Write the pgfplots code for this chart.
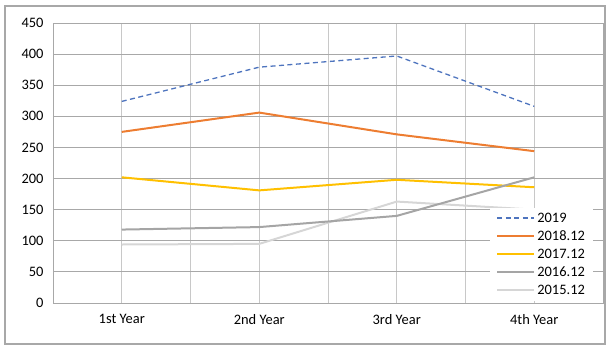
\documentclass[border=0pt]{standalone}
\usepackage{pgfplots}
\pgfplotsset{compat=1.18}
\usepackage{fontspec}
\setmainfont{Carlito}
\definecolor{c2019}{HTML}{4E74BE}
\definecolor{c2018}{HTML}{ED7D31}
\definecolor{c2017}{HTML}{FFC000}
\definecolor{c2016}{HTML}{A5A5A5}
\definecolor{c2015}{HTML}{D6D6D6}
\definecolor{hgrid}{HTML}{A8A8A8}
\definecolor{vgrid}{HTML}{C8C8C8}
\begin{document}
\begin{tikzpicture}
\begin{axis}[
  scale only axis, width=550bp, height=280bp,
  xmin=0.5, xmax=4.5, ymin=0, ymax=450,
  xtick={1,2,3,4},
  xticklabels={1st Year,2nd Year,3rd Year,4th Year},
  minor xtick={0.5,1.5,2.5,3.5,4.5},
  ytick={0,50,...,450},
  xmajorgrids, xminorgrids, ymajorgrids,
  x grid style={color=vgrid, line width=0.9bp},
  minor x grid style={color=vgrid, line width=0.9bp},
  major x grid style={color=vgrid, line width=0.9bp},
  y grid style={color=hgrid, line width=0.9bp},
  major tick length=0pt, minor tick length=0pt,
  axis line style={draw=hgrid, line width=0.9bp},
  tick label style={font=\fontsize{14.5}{16}\selectfont, text=black},
  /pgf/number format/assume math mode=true,
  yticklabel style={xshift=-6bp},
  xticklabel style={yshift=-8bp},
  clip=false,
  legend cell align=left,
  legend style={at={(0.982,0.007)}, anchor=south east, draw=none, fill=white,
    font=\fontsize{14.5}{16}\selectfont, inner xsep=6bp, inner ysep=3bp,
    row sep=3bp},
  legend image code/.code={\draw[#1] (0bp,0bp) -- (37bp,0bp);},
]
\addplot[c2019, line width=1.3bp, dash pattern=on 5bp off 3.5bp] coordinates {(1,324) (2,379) (3,397) (4,316)};
\addlegendentry{2019}
\addplot[c2018, line width=2bp] coordinates {(1,275) (2,306) (3,271) (4,244)};
\addlegendentry{2018.12}
\addplot[c2017, line width=2bp] coordinates {(1,202) (2,181) (3,198) (4,186)};
\addlegendentry{2017.12}
\addplot[c2015, line width=2bp, forget plot] coordinates {(1,94) (2,95) (3,163) (4,150)};
\addplot[c2016, line width=2bp] coordinates {(1,118) (2,122) (3,140) (4,202)};
\addlegendentry{2016.12}
\addlegendimage{c2015, line width=2bp}
\addlegendentry{2015.12}
\draw[color=hgrid, line width=1.2bp] (rel axis cs:-0.0873,-0.1464) rectangle (rel axis cs:1.0036,1.0607);
\path (rel axis cs:-0.09636,-0.175) rectangle (rel axis cs:1.01273,1.08214);
\end{axis}
\end{tikzpicture}
\end{document}
